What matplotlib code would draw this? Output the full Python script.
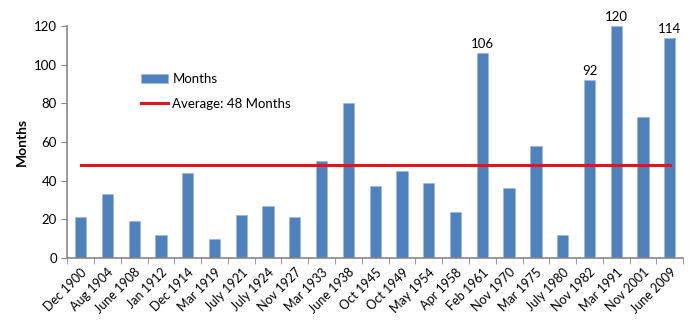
import numpy as np
import matplotlib
matplotlib.use("Agg")
import matplotlib.pyplot as plt

plt.rcParams['font.family'] = ['Lato', 'DejaVu Sans']

# 数据
dates = ['Dec 1900', 'Aug 1904', 'June 1908', 'Jan 1912', 'Dec 1914', 'Mar 1919',
         'July 1921', 'July 1924', 'Nov 1927', 'Mar 1933', 'June 1938', 'Oct 1945',
         'Oct 1949', 'May 1954', 'Apr 1958', 'Feb 1961', 'Nov 1970', 'Mar 1975',
         'July 1980', 'Nov 1982', 'Mar 1991', 'Nov 2001', 'June 2009']
months = [21, 33, 19, 12, 44, 10, 22, 27, 21, 50, 80, 37, 45, 39, 24, 106, 36, 58,
          12, 92, 120, 73, 114]
average = 48
labelled = ['Feb 1961', 'Nov 1982', 'Mar 1991', 'June 2009']

fig = plt.figure(figsize=(7, 3.35), dpi=100)
ax = fig.add_axes([0.096, 0.23, 0.88, 0.692])

x = np.arange(len(dates))
bars = ax.bar(x, months, width=0.42, color='#4F81BD', edgecolor='#9DBBE0',
              linewidth=0.6, label='Months', zorder=2)
line, = ax.plot([x[0], x[-1]], [average, average], color='#E3141B', linewidth=2.2,
                label='Average: 48 Months', zorder=3)

# 标注
for i, d in enumerate(dates):
    if d in labelled:
        ax.text(x[i], months[i] + 1.5, str(months[i]), ha='center', va='bottom',
                fontsize=9.5)

ax.set_xlim(-0.5, len(dates) - 0.5)
ax.set_ylim(0, 120)
ax.set_yticks(np.arange(0, 121, 20))
ax.set_xticks(x)
ax.set_xticklabels(dates, rotation=45, ha='right', rotation_mode='anchor')
ax.set_xticks(np.arange(-0.5, len(dates)), minor=True)
ax.tick_params(axis='x', which='major', length=0, pad=6, labelsize=9)
ax.tick_params(axis='x', which='minor', length=4, color='#888888', direction='out')
ax.tick_params(axis='y', length=4, color='#888888', labelsize=9.5)
ax.set_ylabel('Months', fontsize=10, fontweight='bold')

for s in ['top', 'right']:
    ax.spines[s].set_visible(False)
for s in ['left', 'bottom']:
    ax.spines[s].set_color('#888888')
    ax.spines[s].set_linewidth(1.2)

ax.legend([bars, line], ['Months', 'Average: 48 Months'], loc='upper left',
          bbox_to_anchor=(0.1, 0.85), frameon=False, fontsize=9.5,
          handlelength=2.1, handleheight=0.7, labelspacing=1.0, handletextpad=0.3)

plt.savefig('out.png', dpi=100)
